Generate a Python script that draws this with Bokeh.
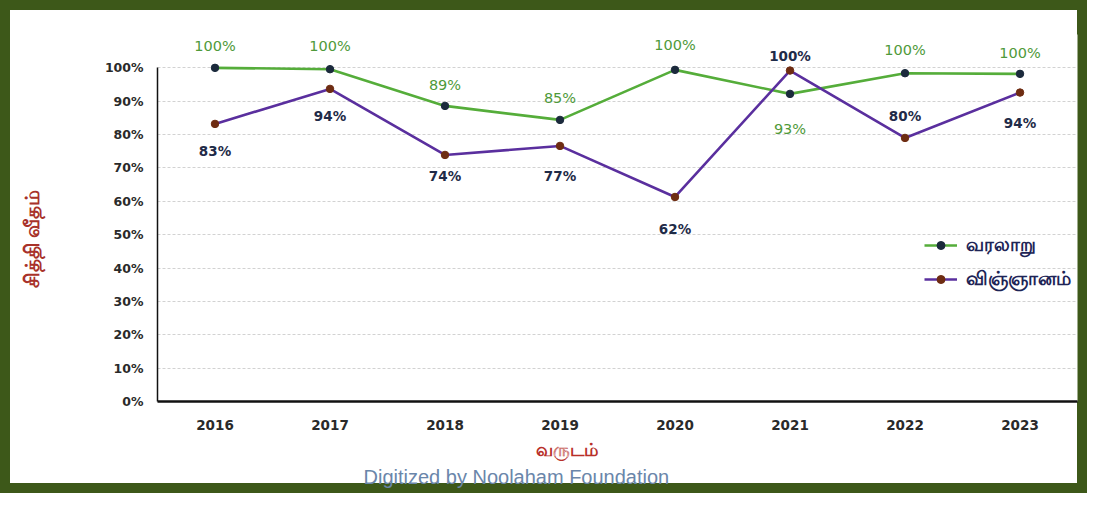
from bokeh.plotting import figure
from bokeh.models import (ColumnDataSource, Legend, LegendItem, PrintfTickFormatter,
                          FixedTicker, Range1d, Title)
from bokeh.core.properties import value
from bokeh.embed import file_html
from bokeh.resources import INLINE

# ---------------- data ----------------
years = ["2016", "2017", "2018", "2019", "2020", "2021", "2022", "2023"]
history = [100.0, 99.6, 88.6, 84.4, 99.4, 92.2, 98.4, 98.2]
history_labels = ["100%", "100%", "89%", "85%", "100%", "93%", "100%", "100%"]
science = [83.2, 93.7, 73.9, 76.6, 61.3, 99.2, 79.0, 92.6]
science_labels = ["83%", "94%", "74%", "77%", "62%", "100%", "80%", "94%"]
y_ticks = [0, 10, 20, 30, 40, 50, 60, 70, 80, 90, 100]
series_names = ["வரலாறு", "விஞ்ஞானம்"]
y_title = "சித்தி வீதம்"
x_title = "வருடம்"
credit = "Digitized by Noolaham Foundation"

# label placement (screen px, + = down)
history_offsets = [-22, -23, -21, -22, -25, 35, -23, -21]
science_offsets = [27, 27, 21, 30, 32, -15, -22, 30]

NUMFONT = "DejaVu Sans"
GREEN = "#55ad3a"
PURPLE = "#5a2f9e"

hsrc = ColumnDataSource(dict(x=years, y=history, lab=history_labels, off=history_offsets))
ssrc = ColumnDataSource(dict(x=years, y=science, lab=science_labels, off=science_offsets))

p = figure(x_range=years, y_range=Range1d(0, 110), width=1087, height=493,
           output_backend="svg", toolbar_location=None,
           min_border_left=157, min_border_right=10, min_border_top=34, min_border_bottom=92,
           styles={"box-shadow": "inset 0 0 0 10px #3d5819", "background-color": "white"})
p.outline_line_color = None
p.background_fill_color = "white"
p.border_fill_color = None

# axes
p.yaxis.ticker = FixedTicker(ticks=y_ticks)
p.yaxis.formatter = PrintfTickFormatter(format="%d%%")
p.yaxis.bounds = (0, 100)
p.yaxis.axis_line_color = "#111111"
p.yaxis.axis_line_width = 1.5
p.yaxis.major_tick_line_color = None
p.yaxis.minor_tick_line_color = None
p.yaxis.major_label_standoff = 8
p.yaxis.major_label_text_font = NUMFONT
p.yaxis.major_label_text_font_style = "bold"
p.yaxis.major_label_text_font_size = "12.5px"
p.yaxis.major_label_text_color = "#2a2a2a"
# trailing no-break spaces move the rotated title down to the centre of the 0-100% span
p.yaxis.axis_label = y_title + "\u00a0" * 8
p.yaxis.axis_label_standoff = 57
p.yaxis.axis_label_text_font = "Noto Sans"
p.yaxis.axis_label_text_font_size = "20px"
p.yaxis.axis_label_text_font_style = "bold"
p.yaxis.axis_label_text_color = "#a8322a"

p.xaxis.axis_line_color = "#111111"
p.xaxis.axis_line_width = 2.5
p.xaxis.major_tick_line_color = None
p.xaxis.minor_tick_line_color = None
p.xaxis.major_label_standoff = 12
p.xaxis.major_label_text_font = NUMFONT
p.xaxis.major_label_text_font_style = "bold"
p.xaxis.major_label_text_font_size = "13.5px"
p.xaxis.major_label_text_color = "#2a2a2a"

p.xgrid.grid_line_color = None
p.ygrid.ticker = FixedTicker(ticks=y_ticks)
p.ygrid.grid_line_color = "#d2d2d2"
p.ygrid.grid_line_dash = "3 2"
p.ygrid.grid_line_width = 1

# series
hl = p.line("x", "y", source=hsrc, line_color=GREEN, line_width=2.6)
hm = p.scatter("x", "y", source=hsrc, size=7.5, fill_color="#1b2a3c", line_color="#1b2a3c")
sl = p.line("x", "y", source=ssrc, line_color=PURPLE, line_width=2.6)
sm = p.scatter("x", "y", source=ssrc, size=7.5, fill_color="#6e2c12", line_color="#6e2c12")

p.text("x", "y", text="lab", source=hsrc, y_offset="off", text_align="center",
       text_baseline="middle", text_font=value(NUMFONT), text_font_size="14.5px",
       text_color="#4f9a3a")
p.text("x", "y", text="lab", source=ssrc, y_offset="off", text_align="center",
       text_baseline="middle", text_font=value(NUMFONT), text_font_size="13.5px",
       text_font_style="bold", text_color="#1f2b48")

legend = Legend(items=[LegendItem(label=series_names[0], renderers=[hl, hm]),
                       LegendItem(label=series_names[1], renderers=[sl, sm])],
                location=(767, 109), border_line_color=None, background_fill_alpha=0,
                glyph_width=33, glyph_height=20, label_height=20, label_standoff=9,
                spacing=7, padding=5,
                label_text_font="Noto Sans", label_text_font_style="bold",
                label_text_font_size="18.5px", label_text_color="#1e2456")
p.add_layout(legend)

# x title and credit line
p.add_layout(Title(text=x_title, align="left", offset=378, standoff=5,
                   text_font="Noto Sans", text_font_size="18px", text_font_style="bold",
                   text_color="#b8302a"), "below")
p.add_layout(Title(text=credit, align="left", offset=206, standoff=0,
                   text_font="Liberation Sans", text_font_size="20px", text_font_style="normal",
                   text_color="#6a86aa"), "below")

open("out.html", "w").write(file_html(p, INLINE))
